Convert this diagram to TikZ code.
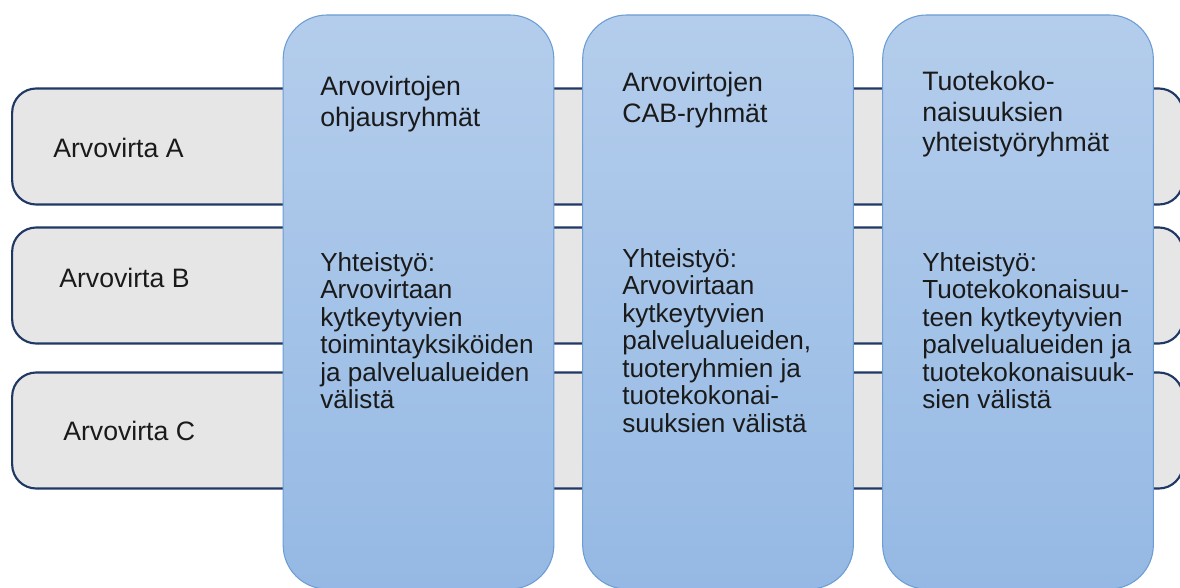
\documentclass[tikz,border=0pt]{standalone}
\usepackage{fontspec}
\setmainfont{Liberation Sans}
\usetikzlibrary{positioning}
\definecolor{rowgray}{RGB}{230,230,230}
\definecolor{rownavy}{RGB}{32,56,100}
\definecolor{coltop}{RGB}{180,205,236}
\definecolor{colbot}{RGB}{149,185,228}
\definecolor{coledge}{RGB}{108,157,212}
\definecolor{txt}{RGB}{26,26,26}

\begin{document}
\begin{tikzpicture}[x=0.75pt, y=-0.75pt,
    stream/.style={draw=rownavy, line width=1.6pt, fill=rowgray, rounded corners=18pt,
        minimum width=878pt, minimum height=87pt, inner sep=0pt},
    group/.style={draw=coledge, line width=0.8pt, top color=coltop, bottom color=colbot,
        rounded corners=33pt, minimum width=203pt, minimum height=430.5pt, inner sep=0pt},
    lab/.style={anchor=base west, inner sep=0pt, text=txt, font=\fontsize{20}{20.8}\selectfont},
    body/.style={lab, anchor=north west, align=left, font=\fontsize{19.6}{20.6}\selectfont},
    head/.style={body, font=\fontsize{20}{22.9}\selectfont}]

    \useasboundingbox (0,0) rectangle (1180,588);

    % value streams
    \foreach \r/\y/\lx/\ly in {A/146.5/53/157, B/285.5/59/287, C/430.5/63/440} {
        \node[stream] (row\r) at (597.5,\y) {};
        \node[lab] (lab\r) at (\lx,\ly) {Arvovirta \r};
    }

    % groups
    \foreach \c/\x in {1/418.5, 2/718, 3/1018} {
        \node[group] (col\c) at (\x,302) {};
    }

    \node[head] (head1) at (320,76) {Arvovirtojen\\ohjausryhmät};
    \node[body] (body1) at (320,252) {Yhteistyö:\\Arvovirtaan\\kytkeytyvien\\toimintayksiköiden\\ja palvelualueiden\\välistä};

    \node[head] (head2) at (622,72) {Arvovirtojen\\CAB-ryhmät};
    \node[body] (body2) at (622,248) {Yhteistyö:\\Arvovirtaan\\kytkeytyvien\\palvelualueiden,\\tuoteryhmien ja\\tuotekokonai-\\suuksien välistä};

    \node[head] (head3) at (922,71) {Tuotekoko-\\naisuuksien\\yhteistyöryhmät};
    \node[body] (body3) at (922,252) {Yhteistyö:\\Tuotekokonaisuu-\\teen kytkeytyvien\\palvelualueiden ja\\tuotekokonaisuuk-\\sien välistä};

\end{tikzpicture}
\end{document}
